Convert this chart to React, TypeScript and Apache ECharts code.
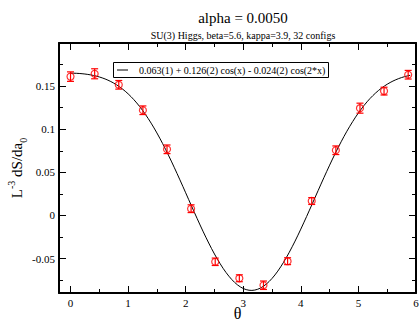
import React, { useEffect, useRef } from "react";
import * as echarts from "echarts";

const THETA = [0, 0.419, 0.838, 1.257, 1.676, 2.094, 2.513, 2.932, 3.351, 3.77, 4.189, 4.608, 5.027, 5.445, 5.864];
const VALUES = [0.161, 0.1643, 0.1515, 0.122, 0.0767, 0.0078, -0.0538, -0.0729, -0.081, -0.0531, 0.0167, 0.0756, 0.1244, 0.1442, 0.1632];
const ERRORS = [0.0055, 0.0058, 0.005, 0.005, 0.005, 0.0045, 0.0043, 0.004, 0.0049, 0.004, 0.004, 0.005, 0.0058, 0.0045, 0.005];
const FIT_COEFFS = [0.063, 0.126, -0.024];
const FIT_RANGE = [0, 5.9];
const X_MAJOR = [0, 1, 2, 3, 4, 5, 6];
const X_MINOR = [0.5, 1.5, 2.5, 3.5, 4.5, 5.5];
const Y_MAJOR = [-0.05, 0, 0.05, 0.1, 0.15];
const Y_MINOR = [-0.075, -0.025, 0.025, 0.075, 0.125, 0.175];
const TITLE = "alpha = 0.0050";
const SUBTITLE = "SU(3) Higgs, beta=5.6, kappa=3.9, 32 configs";
const FIT_LABEL = "0.063(1) + 0.126(2) cos(x) - 0.024(2) cos(2*x)";

const FONT = "Liberation Serif";

export default function App() {
  const ref = useRef<HTMLDivElement>(null);
  useEffect(() => {
    if (!ref.current) return;
    const chart = echarts.init(ref.current, null, { renderer: "svg" });

    const fit: number[][] = [];
    const steps = 118;
    for (let i = 0; i <= steps; i++) {
      const x = FIT_RANGE[0] + ((FIT_RANGE[1] - FIT_RANGE[0]) * i) / steps;
      fit.push([x, FIT_COEFFS[0] + FIT_COEFFS[1] * Math.cos(x) + FIT_COEFFS[2] * Math.cos(2 * x)]);
    }
    const points = THETA.map((t, i) => [t, VALUES[i]]);
    const errs = THETA.map((t, i) => [t, VALUES[i], ERRORS[i]]);

    const lineStyle = { color: "#000", width: 2 };
    const baseX = { type: "value", min: -0.2, max: 6, splitLine: { show: false } };
    const baseY = { type: "value", min: -0.09, max: 0.2, splitLine: { show: false } };
    const lineOn = { show: true, onZero: false, lineStyle };
    const lineOff = { show: false, onZero: false };

    const option: any = {
      animation: false,
      backgroundColor: "#fff",
      title: [
        { text: TITLE, left: 238, top: 5, textAlign: "center", textStyle: { fontFamily: FONT, fontSize: 15, fontWeight: "normal", color: "#000" } },
        { text: SUBTITLE, left: 238, top: 25, textAlign: "center", textStyle: { fontFamily: FONT, fontSize: 10, fontWeight: "normal", color: "#000" } },
      ],
      grid: { left: 59, top: 43, width: 357, height: 250, containLabel: false, outerBoundsMode: "none" },
      graphic: [
        {
          type: "group",
          z: 100,
          children: [
            { type: "rect", shape: { x: 113.5, y: 62.5, width: 215, height: 15 }, style: { fill: "#fff", stroke: "#000", lineWidth: 1 } },
            { type: "line", shape: { x1: 117, y1: 70, x2: 128, y2: 70 }, style: { stroke: "#000", lineWidth: 1 } },
            { type: "text", x: 139, y: 70.5, style: { text: FIT_LABEL, fontFamily: FONT, fontSize: 10, fill: "#000", textVerticalAlign: "middle", textAlign: "left" } },
          ],
        },
      ],
      xAxis: [
        {
          ...baseX, position: "bottom",
          axisLine: lineOn,
          axisTick: { show: true, inside: true, length: 7, customValues: X_MAJOR, lineStyle: { color: "#000", width: 1 } },
          axisLabel: { customValues: X_MAJOR, fontFamily: FONT, fontSize: 11, color: "#000", margin: 4 },
          name: "θ", nameLocation: "middle", nameGap: 12, nameMoveOverlap: false,
          nameTextStyle: { fontFamily: FONT, fontSize: 16, color: "#000" },
        },
        {
          ...baseX, position: "top",
          axisLine: lineOn,
          axisTick: { show: true, inside: true, length: 7, customValues: X_MAJOR, lineStyle: { color: "#000", width: 1 } },
          axisLabel: { show: false },
        },
        {
          ...baseX, position: "bottom", offset: 0,
          axisLine: lineOff,
          axisTick: { show: true, inside: true, length: 4, customValues: X_MINOR, lineStyle: { color: "#000", width: 1 } },
          axisLabel: { show: false },
        },
        {
          ...baseX, position: "top", offset: 0,
          axisLine: lineOff,
          axisTick: { show: true, inside: true, length: 4, customValues: X_MINOR, lineStyle: { color: "#000", width: 1 } },
          axisLabel: { show: false },
        },
      ],
      yAxis: [
        {
          ...baseY, position: "left",
          axisLine: lineOn,
          axisTick: { show: true, inside: true, length: 7, customValues: Y_MAJOR, lineStyle: { color: "#000", width: 1 } },
          axisLabel: { customValues: Y_MAJOR, fontFamily: FONT, fontSize: 11, color: "#000", margin: 4 },
          name: "{a|L}{b|-3}{a| dS/da}{c|0}",
          nameLocation: "middle",
          nameGap: 31,
          nameRotate: 90,
          nameMoveOverlap: false,
          nameTextStyle: {
            color: "#000",
            rich: {
              a: { fontFamily: FONT, fontSize: 15, color: "#000", lineHeight: 22 },
              b: { fontFamily: FONT, fontSize: 10, color: "#000", verticalAlign: "top", lineHeight: 10 },
              c: { fontFamily: FONT, fontSize: 10, color: "#000", verticalAlign: "bottom", lineHeight: 10 },
            },
          },
        },
        {
          ...baseY, position: "right",
          axisLine: lineOn,
          axisTick: { show: true, inside: true, length: 7, customValues: Y_MAJOR, lineStyle: { color: "#000", width: 1 } },
          axisLabel: { show: false },
        },
        {
          ...baseY, position: "left", offset: 0,
          axisLine: lineOff,
          axisTick: { show: true, inside: true, length: 4, customValues: Y_MINOR, lineStyle: { color: "#000", width: 1 } },
          axisLabel: { show: false },
        },
        {
          ...baseY, position: "right", offset: 0,
          axisLine: lineOff,
          axisTick: { show: true, inside: true, length: 4, customValues: Y_MINOR, lineStyle: { color: "#000", width: 1 } },
          axisLabel: { show: false },
        },
      ],
      series: [
        {
          name: "fit",
          type: "line",
          data: fit,
          showSymbol: false,
          symbol: "none",
          smooth: false,
          lineStyle: { color: "#000", width: 1 },
          itemStyle: { color: "#000" },
          z: 2,
        },
        {
          name: "err",
          type: "custom",
          data: errs,
          z: 3,
          renderItem: (params: any, api: any) => {
            const x = api.value(0);
            const y = api.value(1);
            const e = api.value(2);
            const top = api.coord([x, y + e]);
            const bot = api.coord([x, y - e]);
            const w = 3.5;
            const st = { stroke: "#ff0000", lineWidth: 1.2 };
            return {
              type: "group",
              children: [
                { type: "line", shape: { x1: top[0], y1: top[1], x2: bot[0], y2: bot[1] }, style: st },
                { type: "line", shape: { x1: top[0] - w, y1: top[1], x2: top[0] + w, y2: top[1] }, style: st },
                { type: "line", shape: { x1: bot[0] - w, y1: bot[1], x2: bot[0] + w, y2: bot[1] }, style: st },
              ],
            };
          },
        },
        {
          name: "data",
          type: "scatter",
          data: points,
          symbol: "circle",
          symbolSize: 7,
          itemStyle: { color: "transparent", borderColor: "#ff0000", borderWidth: 1.2 },
          z: 4,
        },
      ],
    };
    chart.setOption(option);
    return () => chart.dispose();
  }, []);
  return <div ref={ref} style={{ position: "fixed", left: 0, top: 0, width: 419, height: 320 }} />;
}
